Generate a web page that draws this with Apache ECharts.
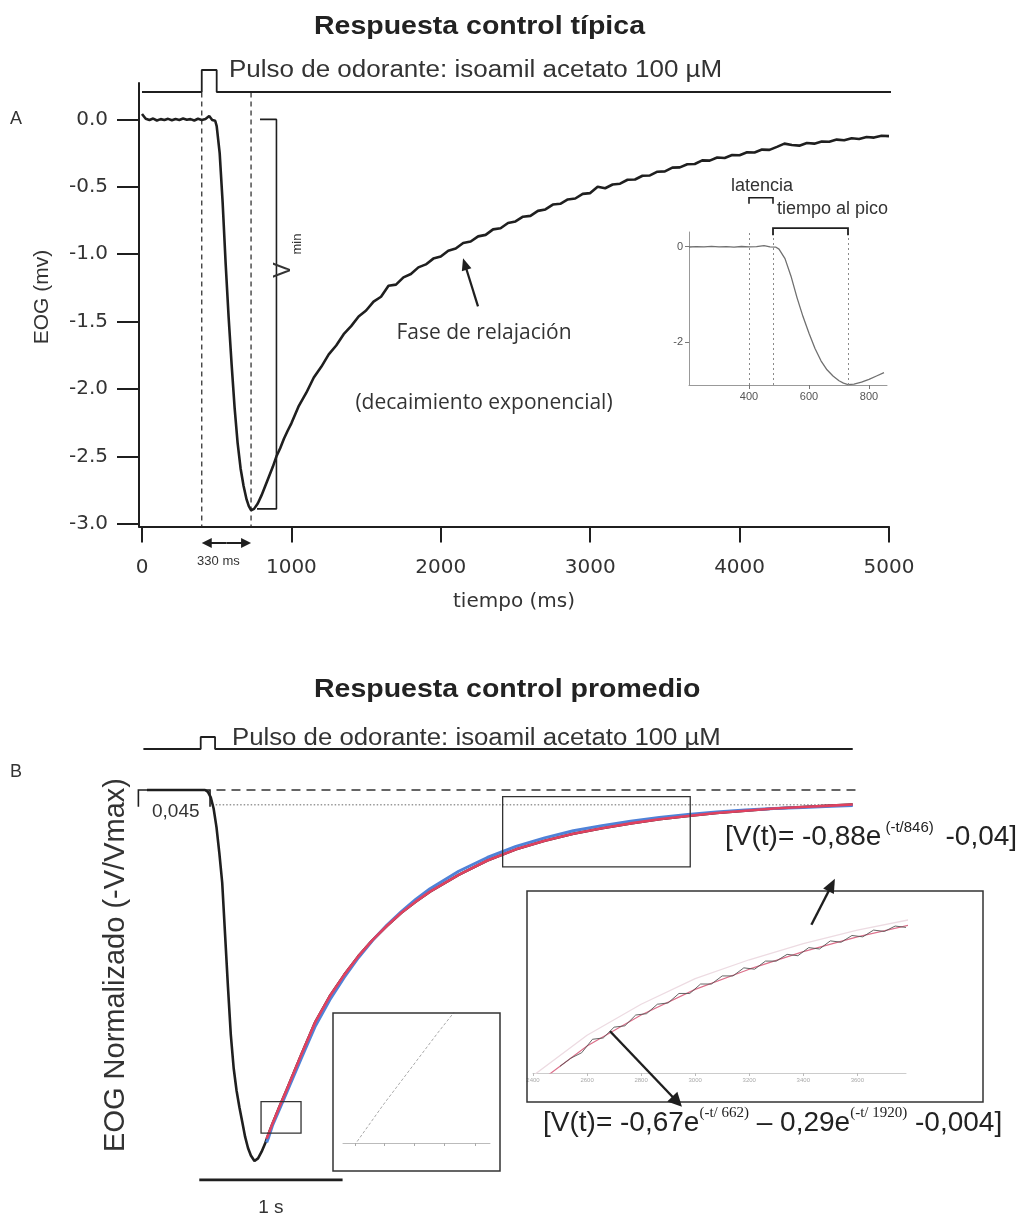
<!DOCTYPE html>
<html>
<head>
<meta charset="utf-8">
<script src="https://cdn.jsdelivr.net/npm/echarts@6/dist/echarts.min.js"></script>
<style>
  html, body { margin: 0; padding: 0; background: #fff; }
  #chart { width: 1033px; height: 1220px; }
</style>
</head>
<body>
<div id="chart"></div>
<script>
// ---------- Panel A: typical control EOG response (time in ms, EOG in mV) ----------
const timeA = [0,25,50,75,100,125,150,175,200,225,250,275,300,325,350,375,400,425,450,470,490,
  500,520,540,560,580,600,620,640,660,680,700,715,730,750,775,800,825,850,875,900,925,950,975,
  1000,1050,1100,1150,1200,1250,1300,1350,1400,1450,1500,1550,1600,1650,1700,1750,1800,1850,1900,1950,
  2000,2050,2100,2150,2200,2250,2300,2350,2400,2450,2500,2550,2600,2650,2700,2750,2800,2850,2900,2950,
  3000,3050,3100,3150,3200,3250,3300,3350,3400,3450,3500,3550,3600,3650,3700,3750,3800,3850,3900,3950,
  4000,4050,4100,4150,4200,4250,4300,4350,4400,4450,4500,4550,4600,4650,4700,4750,4800,4850,4900,4950,5000];
const eogA = [0.04,0.005,-0.004,0.006,-0.008,0.002,-0.005,0.004,-0.006,0.003,-0.004,0.006,-0.003,0.002,-0.008,0.005,-0.004,0.003,0.025,-0.004,-0.01,
  -0.05,-0.25,-0.62,-1.07,-1.47,-1.82,-2.14,-2.40,-2.59,-2.72,-2.82,-2.87,-2.90,-2.89,-2.85,-2.79,-2.72,-2.65,-2.58,-2.50,-2.44,-2.37,-2.31,
  -2.255,-2.125,-2.028,-1.915,-1.836,-1.744,-1.678,-1.594,-1.534,-1.462,-1.418,-1.352,-1.316,-1.235,-1.226,-1.172,-1.147,-1.098,-1.076,-1.033,
  -1.018,-0.974,-0.958,-0.917,-0.906,-0.868,-0.857,-0.816,-0.808,-0.769,-0.757,-0.722,-0.716,-0.679,-0.668,-0.632,-0.626,-0.594,-0.587,-0.553,
  -0.547,-0.500,-0.511,-0.483,-0.477,-0.448,-0.446,-0.418,-0.416,-0.388,-0.386,-0.358,-0.356,-0.333,-0.331,-0.304,-0.306,-0.283,-0.286,-0.264,
  -0.266,-0.244,-0.246,-0.224,-0.226,-0.204,-0.180,-0.190,-0.195,-0.175,-0.180,-0.164,-0.166,-0.150,-0.155,-0.140,-0.145,-0.131,-0.135,-0.121,-0.124];
const pulseTimeA = [0, 400, 400, 500, 500, 5020];
const pulseLevel = [0, 0, 1, 1, 0, 0];
const tickTimeA = [0, 1000, 2000, 3000, 4000, 5000];
const tickEogA = [0, -0.5, -1, -1.5, -2, -2.5, -3];
const insetTickTimeA = [400, 600, 800];
const insetTickEogA = [0, -2];
const eventTimesA = [400, 480, 730];     // odorant onset, response onset, peak
const vminLevelA = -2.89;

// ---------- Panel B: averaged, normalised control response ----------
const timeB = [25,100,200,300,400,430,450,470,490,510,530,550,570,590,610,630,650,670,690,710,730,750,775,
  800,825,850,875,900,950,1000,1100,1200,1300,1400,1500,1600,1700,1800,1900,2000,2200,2400,2600,2800,3000,
  3200,3400,3600,3800,4000,4200,4400,4600,4800,4950];
const eogB = [0,0,0,0,0,0,-0.005,-0.02,-0.05,-0.10,-0.17,-0.25,-0.39,-0.53,-0.66,-0.75,-0.81,-0.855,-0.895,-0.935,-0.965,-0.985,-1.0,
  -0.993,-0.975,-0.952,-0.925,-0.900,-0.853,-0.808,-0.715,-0.625,-0.556,-0.499,-0.448,-0.404,-0.366,-0.331,-0.301,-0.274,-0.229,-0.190,-0.160,-0.137,-0.118,
  -0.103,-0.090,-0.079,-0.070,-0.062,-0.056,-0.050,-0.046,-0.042,-0.039];
const fitTime = [860,875,900,950,1000,1100,1200,1300,1400,1500,1600,1700,1800,1900,2000,2200,2400,2600,2800,3000,3200,3400,3600,3800,4000,4200,4400,4600,4800,4950];
const fitDouble = [-0.94,-0.925,-0.900,-0.853,-0.808,-0.715,-0.625,-0.556,-0.499,-0.448,-0.404,-0.366,-0.331,-0.301,-0.274,-0.229,-0.190,-0.160,-0.137,-0.118,-0.103,-0.090,-0.079,-0.070,-0.062,-0.056,-0.050,-0.046,-0.042,-0.039];
const fitSingle = [-0.95,-0.935,-0.905,-0.860,-0.815,-0.725,-0.636,-0.566,-0.506,-0.452,-0.405,-0.364,-0.328,-0.295,-0.266,-0.219,-0.182,-0.152,-0.129,-0.110,-0.096,-0.084,-0.074,-0.066,-0.059,-0.054,-0.050,-0.047,-0.044,-0.042];
// detail of the recovery tail shown enlarged
const zoomTime = [2500,2540,2580,2620,2660,2700,2740,2780,2820,2860,2900,2940,2980,3020,3060,3100,3140,3180,3220,3260,3300,3340,3380,3420,3460,3500,3540,3580,3620,3660,3700,3740,3780];
const zoomEog = [-0.175,-0.169,-0.165,-0.155,-0.154,-0.146,-0.145,-0.137,-0.136,-0.129,-0.128,-0.121,-0.121,-0.114,-0.114,-0.108,-0.108,-0.102,-0.103,-0.097,-0.097,-0.092,-0.093,-0.087,-0.088,-0.082,-0.083,-0.078,-0.079,-0.074,-0.075,-0.071,-0.072];
const zoomTicksTail = [2400, 2600, 2800, 3000, 3200, 3400, 3600];
const zoomTicksEarly = [874, 901, 928, 956, 984];
const pulseTimeB = [0, 400, 400, 500, 500, 4950];
const baselineB = 0;
const asymptoteB = -0.04;
const boxEarly = [[821, -0.840], [1100, -0.925]];
const boxTail = [[2507, -0.018], [3816, -0.207]];
const scaleBar = [390, 1390];

const pairs = (xs, ys) => xs.map((x, i) => [x, ys[i]]);
const INK = '#1f1f1f';
const TXT = '#333';
const plain = v => String(v);

const hiddenX = (g, min, max) => ({ gridIndex: g, type: 'value', min, max, show: false });
const hiddenY = (g, min, max) => ({ gridIndex: g, type: 'value', min, max, show: false });

const chart = echarts.init(document.getElementById('chart'));

const option = {
  animation: false,
  backgroundColor: '#fff',
  textStyle: { fontFamily: 'Liberation Sans' },
  grid: [
    { left: 139, top: 83, width: 750, height: 443.4, outerBoundsMode: 'none' },          // 0 A main
    { left: 139, top: 70, width: 750, height: 22, outerBoundsMode: 'none' },             // 1 A pulse
    { left: 689, top: 232, width: 198, height: 153, outerBoundsMode: 'none' },           // 2 A inset
    { left: 143.4, top: 771.45, width: 716.5, height: 426.65, outerBoundsMode: 'none' }, // 3 B main
    { left: 143.4, top: 737, width: 716.5, height: 12, outerBoundsMode: 'none' },        // 4 B pulse
    { left: 343, top: 1013, width: 147, height: 130, outerBoundsMode: 'none' },          // 5 B early detail
    { left: 533, top: 891, width: 373, height: 182, outerBoundsMode: 'none' }            // 6 B tail detail
  ],
  xAxis: [
    {
      gridIndex: 0, type: 'value', min: -20, max: 5000,
      axisLine: { onZero: false, lineStyle: { color: INK, width: 2 } },
      axisTick: { customValues: tickTimeA, length: 16, lineStyle: { color: INK, width: 2 } },
      axisLabel: { customValues: tickTimeA, margin: 31, fontFamily: 'DejaVu Sans', fontSize: 20, color: TXT, formatter: plain },
      splitLine: { show: false },
      name: 'tiempo (ms)', nameLocation: 'middle', nameGap: 65,
      nameTextStyle: { fontFamily: 'DejaVu Sans', fontSize: 20, color: TXT }
    },
    hiddenX(1, -20, 5000),
    {
      gridIndex: 2, type: 'value', min: 200, max: 860,
      axisLine: { onZero: false, lineStyle: { color: '#999', width: 1 } },
      axisTick: { customValues: insetTickTimeA, length: 4, lineStyle: { color: '#777' } },
      axisLabel: { customValues: insetTickTimeA, margin: 6, fontSize: 11, color: '#555', formatter: plain },
      splitLine: { show: false }
    },
    hiddenX(3, 0, 5000),
    hiddenX(4, 0, 5000),
    {
      gridIndex: 5, type: 'value', min: 863, max: 998,
      axisLine: { onZero: false, lineStyle: { color: '#bbb', width: 1 } },
      axisTick: { customValues: zoomTicksEarly, length: 3, lineStyle: { color: '#aaa' } },
      axisLabel: { show: false },
      splitLine: { show: false }
    },
    {
      gridIndex: 6, type: 'value', min: 2400, max: 3780,
      axisLine: { onZero: false, lineStyle: { color: '#ccc', width: 1 } },
      axisTick: { customValues: zoomTicksTail, length: 3, lineStyle: { color: '#bbb' } },
      axisLabel: { customValues: zoomTicksTail, margin: 4, fontSize: 6, color: '#aaa', formatter: plain },
      splitLine: { show: false }
    }
  ],
  yAxis: [
    {
      gridIndex: 0, type: 'value', min: -3.02, max: 0.27,
      axisLine: { show: true, onZero: false, lineStyle: { color: INK, width: 2 } },
      axisTick: { show: true, customValues: tickEogA, length: 22, lineStyle: { color: INK, width: 2 } },
      axisLabel: { customValues: tickEogA, margin: 31, fontFamily: 'DejaVu Sans', fontSize: 20, color: TXT,
        formatter: v => v.toFixed(1) },
      splitLine: { show: false }
    },
    hiddenY(1, 0, 1),
    {
      gridIndex: 2, type: 'value', min: -2.91, max: 0.31,
      axisLine: { show: true, onZero: false, lineStyle: { color: '#999', width: 1 } },
      axisTick: { show: true, customValues: insetTickEogA, length: 4, lineStyle: { color: '#777' } },
      axisLabel: { customValues: insetTickEogA, margin: 6, fontSize: 11, color: '#555' },
      splitLine: { show: false }
    },
    hiddenY(3, -1.1, 0.05),
    hiddenY(4, 0, 1),
    hiddenY(5, -0.925, -0.84),
    hiddenY(6, -0.18, -0.045)
  ],
  series: [
    // Panel A trace
    { type: 'line', xAxisIndex: 0, yAxisIndex: 0, data: pairs(timeA, eogA), showSymbol: false,
      lineStyle: { color: INK, width: 2.6 }, z: 5 },
    // odorant onset and peak markers
    ...[eventTimesA[0], eventTimesA[2]].map(t => ({
      type: 'line', xAxisIndex: 0, yAxisIndex: 0, data: [[t, 0.2], [t, -3.02]], showSymbol: false,
      lineStyle: { color: '#333', width: 1.3, type: [5, 4] }, z: 3 })),
    // V min bracket
    { type: 'line', xAxisIndex: 0, yAxisIndex: 0, showSymbol: false,
      data: [[790, 0], [900, 0], [900, vminLevelA], [770, vminLevelA]],
      lineStyle: { color: INK, width: 1.6 }, z: 4 },
    // stimulus pulse A
    { type: 'line', xAxisIndex: 1, yAxisIndex: 1, data: pairs(pulseTimeA, pulseLevel), showSymbol: false,
      clip: false, lineStyle: { color: INK, width: 1.8 } },
    // inset A: onset of the response
    { type: 'line', xAxisIndex: 2, yAxisIndex: 2, showSymbol: false,
      data: pairs(timeA, eogA).filter(p => p[0] >= 200 && p[0] <= 860),
      lineStyle: { color: '#707070', width: 1.3 },
      markLine: { silent: true, symbol: ['none', 'none'], label: { show: false },
        lineStyle: { type: [2, 3], color: '#8a8a8a', width: 1 },
        data: eventTimesA.map(t => ({ xAxis: t })) } },
    // stimulus pulse B
    { type: 'line', xAxisIndex: 4, yAxisIndex: 4, data: pairs(pulseTimeB, pulseLevel), showSymbol: false,
      clip: false, lineStyle: { color: INK, width: 1.8 } },
    // baseline and asymptote guides
    { type: 'line', xAxisIndex: 3, yAxisIndex: 3, data: [[510, baselineB], [4980, baselineB]], showSymbol: false,
      lineStyle: { color: '#333', width: 1.6, type: [9, 6] } },
    { type: 'line', xAxisIndex: 3, yAxisIndex: 3, data: [[480, asymptoteB], [4950, asymptoteB]], showSymbol: false,
      lineStyle: { color: '#666', width: 1, type: [1.5, 2] } },
    // averaged trace and the two fits
    { type: 'line', xAxisIndex: 3, yAxisIndex: 3, data: pairs(timeB, eogB), showSymbol: false,
      lineStyle: { color: INK, width: 2.6 }, z: 4 },
    { type: 'line', xAxisIndex: 3, yAxisIndex: 3, data: pairs(fitTime, fitSingle), showSymbol: false,
      lineStyle: { color: '#4f82d8', width: 3 }, z: 5 },
    { type: 'line', xAxisIndex: 3, yAxisIndex: 3, data: pairs(fitTime, fitDouble), showSymbol: false,
      lineStyle: { color: '#e0415f', width: 2.6 }, z: 6 },
    // 1 s scale bar
    { type: 'line', xAxisIndex: 3, yAxisIndex: 3, data: [[scaleBar[0], -1.051], [scaleBar[1], -1.051]], showSymbol: false,
      clip: false, lineStyle: { color: INK, width: 2.6 } },
    // early detail
    { type: 'line', xAxisIndex: 5, yAxisIndex: 5, data: pairs(fitTime, fitDouble), showSymbol: false,
      lineStyle: { color: '#aaa', width: 1, type: [3, 2] } },
    // tail detail
    { type: 'line', xAxisIndex: 6, yAxisIndex: 6, data: pairs(fitTime, fitSingle), showSymbol: false,
      lineStyle: { color: '#eddbe2', width: 1.3 } },
    { type: 'line', xAxisIndex: 6, yAxisIndex: 6, data: pairs(fitTime, fitDouble), showSymbol: false,
      lineStyle: { color: '#dc6f8a', width: 1.2 } },
    { type: 'line', xAxisIndex: 6, yAxisIndex: 6, data: pairs(zoomTime, zoomEog), showSymbol: false,
      lineStyle: { color: '#555', width: 0.9 } }
  ]
};
chart.setOption(option);

// ---------- annotations placed through the grids' own scales ----------
const P = (g, pt) => chart.convertToPixel({ gridIndex: g }, pt);

function text(x, y, str, o) {
  o = o || {};
  return {
    type: 'text', x, y, rotation: o.rot || 0, scaleX: o.sx || 1, z: 20,
    style: {
      text: str, fill: o.color || TXT,
      font: `${o.weight || 'normal'} ${o.size || 16}px ${o.family || "'Liberation Sans'"}`,
      align: o.align || 'left', verticalAlign: 'middle',
      textAlign: o.align || 'left', textVerticalAlign: 'middle',
      rich: o.rich
    }
  };
}
function arrowHead(tip, from, len, half, color) {
  const dx = tip[0] - from[0], dy = tip[1] - from[1], L = Math.hypot(dx, dy);
  const ux = dx / L, uy = dy / L;
  const b = [tip[0] - ux * len, tip[1] - uy * len];
  return { type: 'polygon', z: 20, shape: { points: [tip, [b[0] - uy * half, b[1] + ux * half], [b[0] + uy * half, b[1] - ux * half]] },
    style: { fill: color } };
}
function arrow(from, tip, o) {
  const dx = tip[0] - from[0], dy = tip[1] - from[1], L = Math.hypot(dx, dy);
  const end = [tip[0] - dx / L * (o.len - 1), tip[1] - dy / L * (o.len - 1)];
  return [
    { type: 'line', z: 20, shape: { x1: from[0], y1: from[1], x2: end[0], y2: end[1] }, style: { stroke: o.color, lineWidth: o.width } },
    arrowHead(tip, from, o.len, o.half, o.color)
  ];
}
function poly(points, color, width) {
  return { type: 'polyline', z: 20, shape: { points }, style: { stroke: color, lineWidth: width, fill: null } };
}
function rectFrom(a, b, color, width) {
  return { type: 'rect', z: 20, shape: { x: Math.min(a[0], b[0]), y: Math.min(a[1], b[1]), width: Math.abs(b[0] - a[0]), height: Math.abs(b[1] - a[1]) },
    style: { stroke: color, lineWidth: width, fill: null } };
}

const g = [];
// titles and panel letters
g.push(text(314, 27, 'Respuesta control típica', { weight: 'bold', size: 25, sx: 1.14, color: '#222' }));
g.push(text(314, 690, 'Respuesta control promedio', { weight: 'bold', size: 25, sx: 1.14, color: '#222' }));
g.push(text(16, 119, 'A', { size: 18, align: 'center' }));
g.push(text(16, 772, 'B', { size: 18, align: 'center' }));
g.push(text(229, 71, 'Pulso de odorante: isoamil acetato 100 µM', { size: 23, sx: 1.13 }));
g.push(text(232, 739, 'Pulso de odorante: isoamil acetato 100 µM', { size: 23, sx: 1.12 }));
g.push(text(42, 297, 'EOG (mv)', { size: 21, align: 'center', rot: Math.PI / 2 }));
g.push(text(116, 965, 'EOG Normalizado (-V/Vmax)', { size: 29, align: 'center', rot: Math.PI / 2 }));

// latency-to-peak interval under the time axis
const arrY = -3.143;
const a1 = P(0, [eventTimesA[0], arrY]), a2 = P(0, [eventTimesA[2], arrY]);
const mid = [(a1[0] + a2[0]) / 2, a1[1]];
g.push(...arrow(mid, a1, { len: 10, half: 5, color: INK, width: 2 }));
g.push(...arrow(mid, a2, { len: 10, half: 5, color: INK, width: 2 }));
g.push(text(mid[0] - 8, a1[1] + 18, '330 ms', { size: 13, align: 'center' }));

// V min label
g.push(text(284, 270, 'V', { size: 23, align: 'center', rot: Math.PI / 2 }));
g.push(text(297, 244, 'min', { size: 13, align: 'center', rot: Math.PI / 2 }));

// relaxation phase
g.push(...arrow(P(0, [2249, -1.387]), P(0, [2149, -1.031]), { len: 12, half: 5, color: INK, width: 2.2 }));
g.push(text(484, 333, 'Fase de relajación', { size: 21, align: 'center', family: "'Open Sans'" }));
g.push(text(484, 403, '(decaimiento exponencial)', { size: 21, align: 'center', family: "'Open Sans'" }));

// inset A brackets
const latL = P(2, [eventTimesA[0], 1.03]), latR = P(2, [eventTimesA[1], 1.03]);
g.push(poly([[latL[0], latL[1] + 6], latL, latR, [latR[0], latR[1] + 6]], INK, 1.6));
const tpL = P(2, [eventTimesA[1], 0.39]), tpR = P(2, [eventTimesA[2], 0.39]);
g.push(poly([[tpL[0], tpL[1] + 7], tpL, tpR, [tpR[0], tpR[1] + 7]], INK, 1.8));
g.push(text(762, 186, 'latencia', { size: 18, align: 'center' }));
g.push(text(777, 209, 'tiempo al pico', { size: 18 }));

// panel B: 0,045 offset bracket
const bl = P(3, [-35, -0.045]), tl = P(3, [-35, 0]), tr = P(3, [465, 0]), br = P(3, [465, -0.045]);
g.push(poly([bl, tl, tr, br], INK, 1.6));
g.push(text(152, 812, '0,045', { size: 19 }));

// detail boxes on the averaged trace
g.push(rectFrom(P(3, boxEarly[0]), P(3, boxEarly[1]), '#333', 1.3));
g.push(rectFrom(P(3, boxTail[0]), P(3, boxTail[1]), '#333', 1.3));
// frames of the enlarged views
g.push({ type: 'rect', z: 20, shape: { x: 333, y: 1013, width: 167, height: 158 }, style: { stroke: '#333', lineWidth: 1.5, fill: null } });
g.push({ type: 'rect', z: 20, shape: { x: 527, y: 891, width: 456, height: 211 }, style: { stroke: '#333', lineWidth: 1.5, fill: null } });

// arrows from the tail detail to the fitted equations
g.push(...arrow(P(6, [3430, -0.070]), P(6, [3517, -0.036]), { len: 14, half: 6, color: INK, width: 2.4 }));
g.push(...arrow(P(6, [2685, -0.149]), P(6, [2951, -0.205]), { len: 14, half: 7, color: INK, width: 2.4 }));

// fitted equations
g.push(text(725, 837, '{m|[V(t)= -0,88e}{s|(-t/846)}{m| -0,04]}', {
  rich: {
    m: { fontFamily: 'Liberation Sans', fontSize: 28, fill: '#222', lineHeight: 34 },
    s: { fontFamily: 'Liberation Sans', fontSize: 15, fill: '#222', verticalAlign: 'top', padding: [0, 4, 0, 4] }
  }
}));
g.push(text(543, 1123, '{m|[V(t)= -0,67e}{s|(-t/ 662)}{m| – 0,29e}{s|(-t/ 1920)}{m| -0,004]}', {
  rich: {
    m: { fontFamily: 'Liberation Sans', fontSize: 28, fill: '#222', lineHeight: 34 },
    s: { fontFamily: 'Liberation Serif', fontSize: 15, fill: '#222', verticalAlign: 'top' }
  }
}));

// 1 s scale bar label
const sb = P(3, [(scaleBar[0] + scaleBar[1]) / 2, -1.051]);
g.push(text(sb[0], sb[1] + 28, '1 s', { size: 19, align: 'center' }));

chart.setOption({ graphic: { elements: g } });
</script>
</body>
</html>
